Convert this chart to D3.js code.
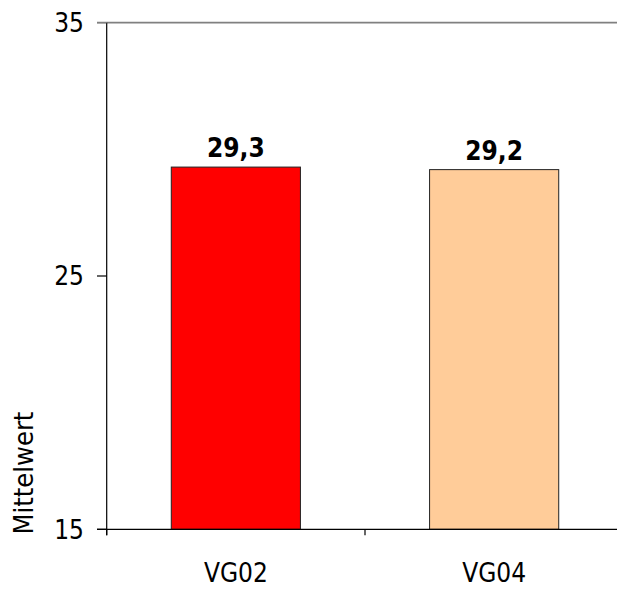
<!DOCTYPE html>
<html>
<head>
<meta charset="utf-8">
<script src="https://cdn.jsdelivr.net/npm/d3@7"></script>
<style>
  html, body { margin: 0; padding: 0; background: #fff; }
  svg { display: block; }
  text { font-family: "DejaVu Sans Condensed", "DejaVu Sans", sans-serif; fill: #000; }
</style>
</head>
<body>
<svg id="chart" width="617" height="589"></svg>
<script>
// Mean values per survey wave
const categories = ["VG02", "VG04"];
const values = [29.3, 29.2];
const valueLabels = ["29,3", "29,2"];
const barColors = ["#FF0000", "#FFCC99"];
const yTicks = [15, 25, 35];
const yTitle = "Mittelwert";

(function draw() {
  const svg = d3.select("#chart");
  const plotLeft = 106.7, plotRight = 623.3, plotTop = 22.7, plotBottom = 529.3;

  const y = d3.scaleLinear().domain([15, 35]).range([plotBottom, plotTop]);
  const x = d3.scaleBand().domain(categories).range([plotLeft, plotRight])
    .paddingInner(0.5).paddingOuter(0.25);
  const step = x.step();

  // Top frame line of the plot area
  svg.append("line")
    .attr("x1", 97).attr("x2", 617)
    .attr("y1", y(35)).attr("y2", y(35))
    .attr("stroke", "#808080").attr("stroke-width", 1.8);

  // Bars
  svg.selectAll("rect.bar").data(categories).enter().append("rect")
    .attr("class", "bar")
    .attr("x", d => x(d))
    .attr("width", x.bandwidth())
    .attr("y", (d, i) => y(values[i]))
    .attr("height", (d, i) => y(15) - y(values[i]))
    .attr("fill", (d, i) => barColors[i])
    .attr("stroke", "#222")
    .attr("stroke-width", 1);

  // Value labels
  svg.selectAll("text.val").data(categories).enter().append("text")
    .attr("class", "val")
    .attr("x", d => x(d) + x.bandwidth() / 2)
    .attr("y", (d, i) => y(values[i]) - 10)
    .attr("text-anchor", "middle")
    .attr("font-size", 26)
    .attr("font-weight", "bold")
    .text((d, i) => valueLabels[i]);

  // Y axis
  const yAxis = svg.append("g");
  yAxis.append("line")
    .attr("x1", plotLeft).attr("x2", plotLeft)
    .attr("y1", y(35)).attr("y2", plotBottom + 6)
    .attr("stroke", "#000").attr("stroke-width", 1.2);
  yAxis.selectAll("line.tick").data(yTicks).enter().append("line")
    .attr("class", "tick")
    .attr("x1", 97).attr("x2", plotLeft)
    .attr("y1", d => y(d)).attr("y2", d => y(d))
    .attr("stroke", d => d === 35 ? "#808080" : "#000")
    .attr("stroke-width", 1.2);
  yAxis.selectAll("text.tl").data(yTicks).enter().append("text")
    .attr("class", "tl")
    .attr("x", 84)
    .attr("y", d => y(d))
    .attr("dy", "0.36em")
    .attr("text-anchor", "end")
    .attr("font-size", 26)
    .text(d => d);

  // X axis
  const xAxis = svg.append("g");
  xAxis.append("line")
    .attr("x1", 97).attr("x2", 617)
    .attr("y1", plotBottom).attr("y2", plotBottom)
    .attr("stroke", "#000").attr("stroke-width", 1.2);
  xAxis.selectAll("line.tick").data(d3.range(categories.length + 1)).enter().append("line")
    .attr("class", "tick")
    .attr("x1", i => plotLeft + i * step).attr("x2", i => plotLeft + i * step)
    .attr("y1", plotBottom).attr("y2", plotBottom + 6)
    .attr("stroke", "#000").attr("stroke-width", 1.2);
  xAxis.selectAll("text.cl").data(categories).enter().append("text")
    .attr("class", "cl")
    .attr("x", d => x(d) + x.bandwidth() / 2)
    .attr("y", 582)
    .attr("text-anchor", "middle")
    .attr("font-size", 26)
    .text(d => d);

  // Axis title
  svg.append("text")
    .attr("transform", "translate(33,473) rotate(-90)")
    .attr("text-anchor", "middle")
    .attr("font-family", "'DejaVu Sans', sans-serif")
    .attr("font-size", 27)
    .text(yTitle);
})();
</script>
</body>
</html>
